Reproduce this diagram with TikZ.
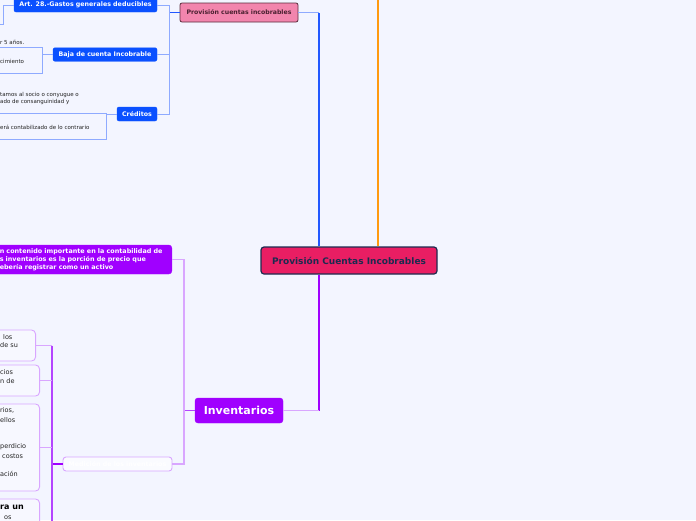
\documentclass[tikz,border=0pt]{standalone}
\usepackage{fontspec}
\setmainfont{DejaVu Sans}
\definecolor{bg}{HTML}{F3F5FF}
\definecolor{navy}{HTML}{1C2B50}
\definecolor{crim}{HTML}{E91E63}
\definecolor{provfill}{HTML}{F285AD}
\definecolor{provdraw}{HTML}{5A2D3C}
\definecolor{provtext}{HTML}{4A2030}
\definecolor{bluenode}{HTML}{0A50FF}
\definecolor{bluetrunk}{HTML}{2258FF}
\definecolor{bluelight}{HTML}{8EAAFF}
\definecolor{orangeline}{HTML}{FF9A10}
\definecolor{purp}{HTML}{A000FF}
\definecolor{purpmid}{HTML}{B444FF}
\definecolor{purplight}{HTML}{D9A6FF}
\definecolor{darktext}{HTML}{222222}
\begin{document}
\begin{tikzpicture}[x=1pt,y=-1pt,
  every node/.style={inner sep=0pt},
  mainnode/.style={draw=navy, fill=crim, line width=1.2pt, rounded corners=3pt,
    minimum width=176pt, minimum height=27pt, text=navy,
    font=\fontsize{9}{10}\selectfont\bfseries},
  provnode/.style={draw=provdraw, fill=provfill, line width=0.8pt, rounded corners=2pt,
    minimum width=118pt, minimum height=19pt, text=provtext,
    font=\fontsize{6.2}{7}\selectfont\bfseries},
  bluebox/.style={fill=bluenode, draw=bluenode, rounded corners=2pt, minimum height=13.5pt,
    text=white, font=\fontsize{6.3}{7}\selectfont\bfseries},
  invnode/.style={fill=purp, draw=purp, rounded corners=3pt, minimum width=88pt,
    minimum height=25pt, text=white, font=\fontsize{11}{12}\selectfont\bfseries},
  purpnode/.style={fill=purp, draw=purp, rounded corners=3pt, minimum height=29pt,
    text=white, align=left, inner xsep=4pt, text width=168pt,
    font=\fontsize{6.4}{7.8}\selectfont\bfseries},
  mednode/.style={fill=white!60!bg, draw=purplight, line width=0.9pt, rounded corners=3pt,
    minimum width=109pt, minimum height=14pt, text=white,
    font=\fontsize{6.3}{7}\selectfont\bfseries},
  pbox/.style={fill=white!30!bg, draw=purplight, line width=0.9pt, rounded corners=4pt},
  bbox/.style={draw=bluelight, line width=0.8pt},
  smalltxt/.style={anchor=west, text=darktext, font=\fontsize{5.5}{6.5}\selectfont},
  boxtxt/.style={anchor=west, text=darktext, font=\fontsize{6.5}{7.5}\selectfont},
  bigtxt/.style={anchor=west, text=black, font=\fontsize{8}{9}\selectfont\bfseries},
  trunkb/.style={draw=bluetrunk, line width=1.6pt},
  lightb/.style={draw=bluelight, line width=1pt},
  trunkp/.style={draw=purp, line width=1.6pt},
  lightp/.style={draw=purplight, line width=1.1pt},
]
\fill[bg] (0,0) rectangle (696,520);
\clip (0,0) rectangle (696,520);

% ---------- nodes ----------
\node[mainnode] (main) at (349,260.5) {Provisión Cuentas Incobrables};
\node[provnode] (prov) at (239,12.5) {Provisión cuentas incobrables};
\node[bluebox, minimum width=143pt, minimum height=14pt] (art) at (85.5,5) {Art. 28.-Gastos generales deducibles};
\node[bluebox, minimum width=104pt] (baja) at (105,54.5) {Baja de cuenta Incobrable};
\node[bluebox, minimum width=40pt, minimum height=14pt] (cred) at (137,114) {Créditos};
\node[invnode] (inv) at (239,410.5) {Inventarios};
\node[purpnode, anchor=east] (imp) at (172,259.5) {n contenido importante en la contabilidad de\\s inventarios es la porción de precio que\\ebería registrar como un activo};
\node[mednode] (med) at (117.5,464) {Medición de los inventarios};

% left boxes (blue side)
\node[bbox, anchor=east, minimum width=60pt, minimum height=26pt] (bjbox) at (43,60) {};
\node[bbox, anchor=east, minimum width=120pt, minimum height=26pt] (crbox) at (107,126) {};
\coordinate (artA) at (3,5);
\coordinate (artB) at (3,24);
\coordinate (artC) at (-5,24);

% left texts (blue side)
\node[smalltxt] (t1) at (0,42) {r 5 años.};
\node[smalltxt] (t2) at (0,61) {cimiento};
\node[smalltxt] (t3) at (0,95) {tamos al socio o conyugue o};
\node[smalltxt] (t4) at (0,101.5) {ado de consanguinidad y};
\node[smalltxt] (t5) at (0,127) {erá contabilizado de lo contrario};

% purple boxes
\node[pbox, anchor=east, minimum width=50pt, minimum height=31pt] (pb1) at (36,345.5) {};
\node[pbox, anchor=east, minimum width=54pt, minimum height=31pt] (pb2) at (40,380.5) {};
\node[pbox, anchor=east, minimum width=54pt, minimum height=87pt] (pb3) at (40,447.5) {};
\node[pbox, anchor=east, minimum width=54pt, minimum height=62pt] (pb4) at (40,530) {};

\node[boxtxt] (u1) at (3,337) {los};
\node[boxtxt] (u2) at (0,345.5) {de su};
\node[boxtxt] (u3) at (0,372) {cios};
\node[boxtxt] (u4) at (0,381) {n de};
\node[boxtxt] (u5) at (0,410.5) {rios,};
\node[boxtxt] (u6) at (0,420) {ellos};
\node[boxtxt] (u7) at (0,447) {perdicio};
\node[boxtxt] (u8) at (2,456.5) {costos};
\node[boxtxt] (u9) at (0,474) {ación};
\node[bigtxt] (u10) at (0,507) {ra un};
\node[boxtxt] (u11) at (4,517.5) {os};

% ---------- connectors ----------
\coordinate (jb) at (319,12.5);
\coordinate (jo) at (378,-5);
\coordinate (jp) at (319,410.5);
\draw[trunkb] (main.north -| jb) -- (jb);
\draw[lightb] (jb) -- (prov.east);
\draw[draw=orangeline, line width=1.6pt] (main.north -| jo) -- (jo);
\draw[draw=purp, line width=1.6pt] (main.south -| jp) -- (jp);
\draw[draw=purplight, line width=1.2pt] (jp) -- (inv.east);

\coordinate (tb) at (169,12.5);
\coordinate (tA) at (169,5);
\coordinate (tC) at (169,114);
\draw[draw=bluetrunk, line width=1.2pt] (prov.west) -- (tb);
\draw[lightb] (art.east) -- (tA) -- (tC) -- (cred.east);
\draw[lightb] (baja.east) -- (baja.east -| tA);
\draw[lightb] (art.west) -- (artA) -- (artB) -- (artC);
\draw[lightb] (baja.west) -- (baja.west -| bjbox.east);
\draw[lightb] (cred.west) -- (cred.west -| crbox.east);

\coordinate (pi) at (184,410.5);
\coordinate (pt) at (184,259.5);
\coordinate (pm) at (184,464);
\draw[draw=purpmid, line width=1.2pt] (inv.west) -- (pi);
\draw[lightp] (imp.east) -- (pt) -- (pm) -- (med.east);

\coordinate (q0) at (52,464);
\coordinate (q1) at (52,345.5);
\coordinate (q4) at (52,530);
\draw[trunkp] (med.west) -- (q0);
\draw[draw=purpmid, line width=1.3pt] (q1) -- (q4);
\draw[lightp] (pb1.east) -- (q1);
\draw[lightp] (pb2.east) -- (pb2.east -| q1);
\draw[lightp] (pb3.east) -- (pb3.east -| q1);
\draw[lightp] (pb4.east) -- (pb4.east -| q1);
\end{tikzpicture}
\end{document}
